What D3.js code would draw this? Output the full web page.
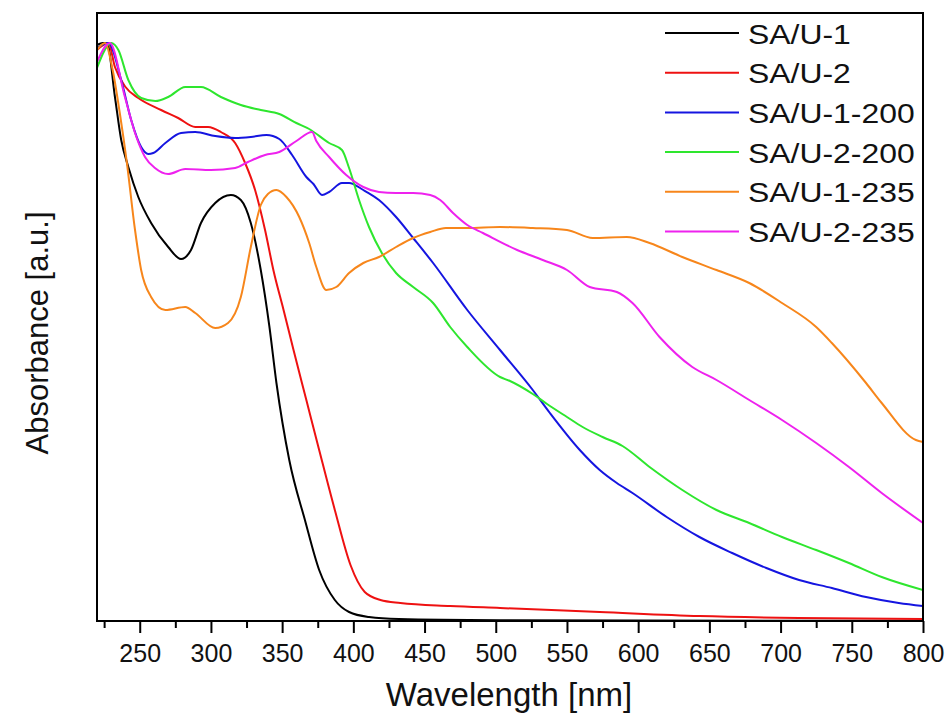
<!DOCTYPE html>
<html>
<head>
<meta charset="utf-8">
<script src="https://cdn.jsdelivr.net/npm/d3@7"></script>
<style>
  html, body { margin: 0; padding: 0; background: #fff; }
  svg { display: block; font-family: "Liberation Sans", Arial, sans-serif; }
</style>
</head>
<body>
<svg id="chart" width="949" height="724"></svg>
<script>
// ---- data (wavelength in nm, absorbance in arbitrary units) ----
const seriesNames = ["SA/U-1", "SA/U-2", "SA/U-1-200", "SA/U-2-200", "SA/U-1-235", "SA/U-2-235"];
const seriesColors = ["#000000", "#ee1111", "#1515e0", "#2ee62e", "#f7861b", "#ee22ee"];
const xTickValues = [250, 300, 350, 400, 450, 500, 550, 600, 650, 700, 750, 800];

const sa_u_1 = [
  [220,5.76],[224,5.78],[227,5.78],[232.6,5.24],[237,4.81],[242,4.54],[249,4.24],[258,3.98],
  [270,3.74],[279,3.62],[286,3.71],[293,3.98],[303,4.18],[314,4.26],[321,4.21],[328,3.98],
  [335,3.51],[341,2.95],[346,2.38],[355,1.61],[366,1.01],[376,0.51],[387,0.21],[397,0.09],
  [411,0.04],[432,0.02],[503,0.008],[600,0.004],[800,0.002]
];
const sa_u_2 = [
  [220,5.71],[228,5.78],[232.6,5.54],[240,5.34],[249,5.23],[265,5.11],[277,5.03],[289,4.94],
  [298,4.94],[307,4.89],[317,4.78],[324,4.58],[331,4.31],[338,3.91],[344,3.50],[351,3.11],
  [358,2.71],[367,2.21],[376,1.71],[387,1.11],[398,0.56],[408,0.29],[419,0.21],[433,0.18],
  [468,0.15],[503,0.13],[573,0.09],[643,0.05],[713,0.03],[800,0.02]
];
const sa_u_1_200 = [
  [220,5.73],[228,5.78],[237,5.41],[244,5.01],[251,4.74],[256,4.67],[259.5,4.68],[268,4.78],
  [279,4.88],[289,4.89],[303,4.85],[317,4.83],[328,4.84],[339,4.86],[348,4.82],[357,4.66],
  [367,4.44],[372,4.37],[378,4.26],[383,4.29],[392,4.38],[397,4.38],[407,4.31],[418,4.21],
  [430,4.04],[442,3.83],[456,3.58],[480,3.11],[503,2.71],[526,2.31],[538,2.08],[559,1.71],
  [573,1.51],[585,1.38],[596,1.28],[620,1.04],[643,0.84],[666,0.68],[690,0.53],
  [713,0.41],[736,0.33],[760,0.24],[783,0.18],[800,0.15]
];
const sa_u_2_200 = [
  [220,5.53],[230,5.78],[235,5.71],[242,5.41],[251,5.23],[261,5.20],[270,5.24],[282,5.34],
  [293,5.34],[307,5.24],[321,5.16],[335,5.11],[348,5.07],[360,4.98],[369,4.92],
  [383,4.78],[392,4.71],[397,4.53],[404,4.21],[411,3.94],[420,3.68],[430,3.48],[442,3.34],
  [456,3.18],[468,2.94],[480,2.74],[503,2.44],[510,2.40],[526,2.27],[536,2.17],[550,2.04],
  [561,1.94],[575,1.84],[589,1.75],[608,1.54],[631,1.31],[655,1.11],[678,0.98],[701,0.84],
  [725,0.71],[748,0.58],[771,0.44],[800,0.31]
];
const sa_u_1_235 = [
  [220,5.71],[225.6,5.78],[231,5.51],[236,5.08],[241,4.58],[246.7,3.91],[251,3.51],[258,3.24],
  [268,3.11],[282,3.14],[289,3.08],[303,2.93],[312,2.98],[321,3.24],[328,3.74],[335,4.16],
  [340,4.27],[346,4.31],[353,4.24],[362,4.04],[369,3.78],[374,3.54],
  [381,3.31],[388,3.34],[397,3.48],[407,3.58],[418,3.64],[430,3.74],[442,3.83],[454,3.89],
  [465,3.93],[480,3.93],[503,3.94],[526,3.93],[550,3.91],[568,3.83],[592,3.84],[608,3.78],
  [631,3.64],[655,3.51],[678,3.38],[701,3.18],[725,2.94],[736,2.78],[760,2.38],[771,2.18],
  [795,1.81],[800,1.79]
];
const sa_u_2_235 = [
  [220,5.59],[229,5.78],[239.6,5.24],[246.7,4.88],[253.7,4.64],[260.7,4.53],[270,4.47],
  [282,4.52],[300,4.51],[317,4.53],[326,4.59],[338,4.66],[348,4.69],[360,4.80],
  [371,4.89],[374,4.80],[383,4.64],[395,4.46],[407,4.34],[418,4.29],[430,4.28],[442,4.28],
  [454,4.26],[461,4.21],[470,4.08],[480,3.96],[491,3.88],[515,3.71],[533,3.61],[550,3.51],
  [566,3.34],[585,3.29],[596,3.18],[615,2.84],[638,2.54],[655,2.41],[678,2.21],[701,2.01],
  [725,1.78],[748,1.54],[771,1.28],[800,0.98]
];
const seriesData = [sa_u_1, sa_u_2, sa_u_1_200, sa_u_2_200, sa_u_1_235, sa_u_2_235];

// ---- layout ----
const svg = d3.select("#chart");
const margin = {left: 97, top: 13, right: 26, bottom: 103};
const W = 949, H = 724;
const iw = W - margin.left - margin.right;
const ih = H - margin.top - margin.bottom;

const x = d3.scaleLinear().domain([220, 800]).range([0, iw]);
const y = d3.scaleLinear().domain([0, 6.08]).range([ih, 0]);

const g = svg.append("g").attr("transform", `translate(${margin.left},${margin.top})`);

svg.append("defs").append("clipPath").attr("id", "clip")
  .append("rect").attr("width", iw).attr("height", ih);

// lines
const line = d3.line().x(d => x(d[0])).y(d => y(d[1])).curve(d3.curveMonotoneX);
g.append("g").attr("clip-path", "url(#clip)")
  .selectAll("path").data(seriesData).join("path")
  .attr("d", d => line(d))
  .attr("fill", "none")
  .attr("stroke", (d, i) => seriesColors[i])
  .attr("stroke-width", 2)
  .attr("stroke-linejoin", "round");

// minor ticks
const minorTicks = d3.range(225, 800, 25).filter(v => v % 50 !== 0);
const xAxisMinor = d3.axisBottom(x).tickValues(minorTicks).tickSize(7).tickFormat("");
g.append("g").attr("transform", `translate(0,${ih})`).call(xAxisMinor)
  .call(a => a.select(".domain").remove())
  .call(a => a.selectAll("line").attr("stroke", "#000").attr("stroke-width", 2));

// major ticks
const xAxis = d3.axisBottom(x).tickValues(xTickValues).tickSize(12).tickPadding(11)
  .tickFormat(d3.format("d"));
const ax = g.append("g").attr("transform", `translate(0,${ih})`).call(xAxis);
ax.select(".domain").remove();
ax.selectAll("line").attr("stroke", "#000").attr("stroke-width", 2);
ax.selectAll("text").attr("font-size", 25).attr("fill", "#111")
  .attr("font-family", "'Liberation Sans', Arial, sans-serif");

// frame
g.append("rect").attr("width", iw).attr("height", ih)
  .attr("fill", "none").attr("stroke", "#000").attr("stroke-width", 2);

// axis titles
svg.append("text")
  .attr("x", margin.left + iw / 2 - 1).attr("y", 706)
  .attr("text-anchor", "middle").attr("font-size", 33).attr("fill", "#111")
  .text("Wavelength [nm]");
svg.append("text")
  .attr("transform", "translate(48,333) rotate(-90)")
  .attr("text-anchor", "middle").attr("font-size", 31).attr("fill", "#111")
  .text("Absorbance [a.u.]");

// legend
const legend = svg.append("g").attr("transform", "translate(665,33)");
const rows = legend.selectAll("g").data(seriesNames).join("g")
  .attr("transform", (d, i) => `translate(0,${i * 39.7})`);
rows.append("line").attr("x1", 0).attr("x2", 74).attr("y1", 0).attr("y2", 0)
  .attr("stroke", (d, i) => seriesColors[i]).attr("stroke-width", 2);
rows.append("text")
  .attr("transform", "translate(83,10.5) scale(1.12,1)")
  .attr("font-size", 28.5).attr("fill", "#111").text(d => d);
</script>
</body>
</html>
